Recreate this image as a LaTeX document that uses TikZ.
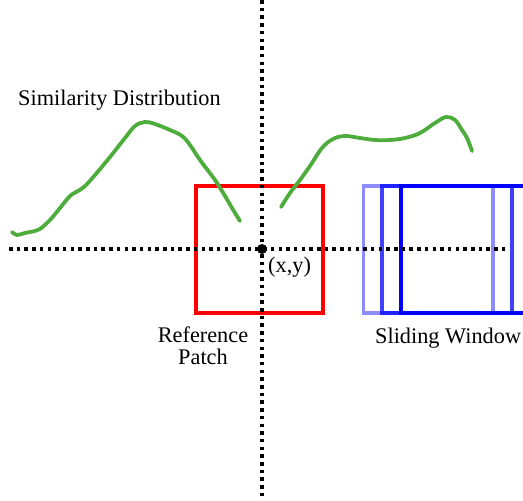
\documentclass[tikz,border=0pt]{standalone}
\usepackage{fontspec}
\setmainfont{Liberation Serif}
\begin{document}
\begin{tikzpicture}[x=1pt,y=-1pt,
  dotline/.style={line width=3.5pt,dash pattern=on 3.5pt off 4.2pt},
  redbox/.style={draw=red,line width=3.5pt},
  bluebox/.style={draw=blue,line width=3.5pt},
  curve/.style={draw=simgreen,line width=3.8pt,line cap=round,line join=round},
  lbl/.style={font=\fontsize{22.3}{22.5}\selectfont,inner sep=0pt}]
\definecolor{simgreen}{RGB}{78,172,60}
\useasboundingbox (0,0) rectangle (523,501);
% axes
\coordinate (vt) at (262,0);
\coordinate (vb) at (262,501);
\coordinate (hl) at (9,249);
\coordinate (hr) at (509,249);
\draw[bluebox,opacity=0.45] (363.5,186) rectangle (493,313);
\draw[bluebox,opacity=0.75] (382,186) rectangle (512,313);
\draw[bluebox] (401,186) rectangle (530,313);
\draw[redbox] (196,186) rectangle (323,313);
\draw[dotline] (vt) -- (vb);
\draw[dotline] (hl) -- (hr);
\node[circle,fill=black,inner sep=0pt,minimum size=10pt] (c) at (262,249) {};
% curves
\draw[curve] plot[smooth,tension=0.6] coordinates {(12,232) (17,235) (25,233) (35,231) (40,229) (50,220) (60,208) (70,196) (78,191) (85,186) (95,175) (110,157) (125,138) (135,126) (145,122) (155,124) (170,130) (182,136) (190,145) (200,160) (215,180) (225,196) (232,208) (240,221)};
\draw[curve] plot[smooth,tension=0.6] coordinates {(281,207) (290,193) (300,180) (310,166) (322,148) (333,139) (345,136) (360,138) (375,140) (390,140) (405,138) (420,133) (435,123) (446,117) (455,120) (462,130) (467,138) (472,151)};
% labels
\node[lbl,anchor=west] (sd) at (18,100) {Similarity Distribution};
\node[lbl,anchor=west] (xy) at (268,267) {(x,y)};
\node[lbl,align=center] (rp) at (203,346) {Reference\\Patch};
\node[lbl,anchor=west] (sw) at (375,338) {Sliding Window};
\end{tikzpicture}
\end{document}
